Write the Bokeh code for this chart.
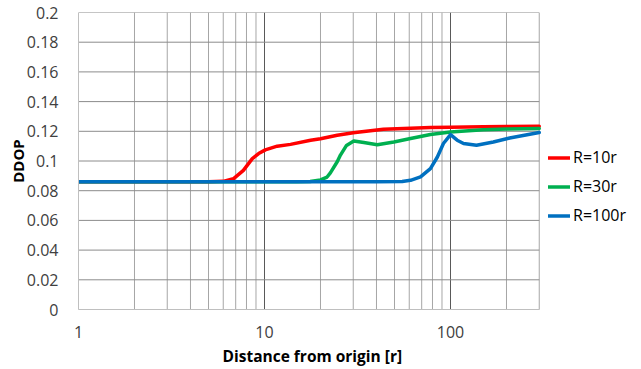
from bokeh.plotting import figure
from bokeh.models import Range1d, FixedTicker, Legend, LegendItem, Title
from bokeh.embed import file_html
from bokeh.resources import INLINE

# ---- data ----
red_x = [1, 3, 5, 6, 6.8, 7.7, 8.6, 9.3, 10.1, 11.7, 13.8, 17.7, 20, 24.6, 30, 43.6, 61, 78, 100, 150, 200, 300]
red_y = [0.086, 0.086, 0.086, 0.0863, 0.088, 0.0937, 0.1016, 0.105, 0.1075, 0.110, 0.1112, 0.114, 0.115, 0.1173, 0.119, 0.1214, 0.122, 0.1226, 0.1228, 0.123, 0.1232, 0.1234]

green_x = [1, 5, 10, 15, 17.6, 20, 21.7, 22.6, 24.6, 25.6, 27.6, 30.2, 34.2, 40.4, 49.6, 61, 78, 100, 150, 200, 300]
green_y = [0.086, 0.086, 0.086, 0.086, 0.0862, 0.0873, 0.0892, 0.092, 0.0995, 0.104, 0.1105, 0.1135, 0.1124, 0.111, 0.1128, 0.1151, 0.1178, 0.1195, 0.121, 0.1215, 0.1219]

blue_x = [1, 5, 10, 20, 40, 55, 61, 69, 78, 85, 91.6, 100, 108.6, 117.5, 138, 170, 208, 300]
blue_y = [0.086, 0.086, 0.086, 0.086, 0.086, 0.0862, 0.087, 0.0893, 0.0949, 0.1027, 0.1118, 0.1178, 0.114, 0.1118, 0.1106, 0.1128, 0.1155, 0.1192]

series_names = ["R=10r", "R=30r", "R=100r"]
series_colors = ["#FF0000", "#00B050", "#0070C0"]

x_start, x_end = 1, 300
y_start, y_end = 0, 0.2
x_major_ticks = [1, 10, 100]
x_major_labels = ["1", "10", "100"]
x_minor_ticks = [2, 3, 4, 5, 6, 7, 8, 9, 20, 30, 40, 50, 60, 70, 80, 90, 200, 300]
y_ticks = [0, 0.02, 0.04, 0.06, 0.08, 0.1, 0.12, 0.14, 0.16, 0.18, 0.2]
y_labels = ["0", "0.02", "0.04", "0.06", "0.08", "0.1", "0.12", "0.14", "0.16", "0.18", "0.2"]
x_title = "Distance from origin [r]"
y_title = "DDOP"

FONT = "Open Sans"
W, H = 641, 369
LEFT, TOP, BOTTOM = 78, 12, 60
DECADE_PX = 186          # width of one decade in pixels
FRAME_W = 558            # frame includes room for the legend on the right

p = figure(width=W, height=H, x_axis_type="log",
           x_range=Range1d(x_start, 10 ** (FRAME_W / DECADE_PX)),
           y_range=Range1d(y_start, y_end),
           output_backend="svg", toolbar_location=None,
           min_border_left=LEFT, min_border_right=W - LEFT - FRAME_W,
           min_border_top=TOP, min_border_bottom=BOTTOM)
p.background_fill_color = "white"
p.border_fill_color = "white"
p.outline_line_color = None
p.xgrid.visible = False
p.ygrid.visible = False

# gridlines, limited to the plot area
p.segment(x0=x_minor_ticks, x1=x_minor_ticks, y0=[y_start] * len(x_minor_ticks), y1=[y_end] * len(x_minor_ticks),
          line_color="#a6a6a6", line_width=1)
p.segment(x0=x_major_ticks[1:], x1=x_major_ticks[1:], y0=[y_start] * 2, y1=[y_end] * 2,
          line_color="#595959", line_width=1)
p.segment(x0=[x_start] * len(y_ticks), x1=[x_end] * len(y_ticks), y0=y_ticks, y1=y_ticks,
          line_color="#8c8c8c", line_width=1)

renderers = []
for xs, ys, c in zip([red_x, green_x, blue_x], [red_y, green_y, blue_y], series_colors):
    r = p.line(xs, ys, line_color=c, line_width=3.5, line_join="round", line_cap="round")
    renderers.append(r)

# axes
xa = p.xaxis[0]
xa.ticker = FixedTicker(ticks=x_major_ticks, minor_ticks=x_minor_ticks)
xa.bounds = (x_start, x_end)
xa.major_label_overrides = {t: l for t, l in zip(x_major_ticks, x_major_labels)}
ya = p.yaxis[0]
ya.ticker = FixedTicker(ticks=y_ticks)
ya.major_label_overrides = {t: l for t, l in zip(y_ticks, y_labels)}
ya.axis_label = y_title

for ax in (xa, ya):
    ax.axis_line_color = "#bfbfbf"
    ax.major_tick_line_color = None
    ax.minor_tick_line_color = None
    ax.major_label_text_font = FONT
    ax.major_label_text_font_size = "16px"
    ax.major_label_text_color = "#404040"
    ax.axis_label_text_font = FONT
    ax.axis_label_text_font_size = "15px"
    ax.axis_label_text_font_style = "bold"
    ax.axis_label_text_color = "#000000"
xa.major_label_standoff = 10
ya.major_label_standoff = 14
ya.axis_label_standoff = -4

# x-axis title centred under the plot area (not under the legend)
xt = Title(text=x_title, align="left", offset=144, standoff=4,
           text_font=FONT, text_font_size="15.5px", text_font_style="bold", text_color="#000000")
p.add_layout(xt, "below")

legend = Legend(items=[LegendItem(label=n, renderers=[r]) for n, r in zip(series_names, renderers)],
                location=(470, 83))
legend.border_line_color = None
legend.background_fill_alpha = 0
legend.padding = 0
legend.margin = 0
legend.spacing = 7
legend.glyph_width = 22
legend.glyph_height = 21
legend.label_height = 21
legend.label_standoff = 3
legend.label_text_font = FONT
legend.label_text_font_size = "16px"
legend.label_text_color = "#000000"
p.add_layout(legend, "center")

open("out.html", "w").write(file_html(p, INLINE))
